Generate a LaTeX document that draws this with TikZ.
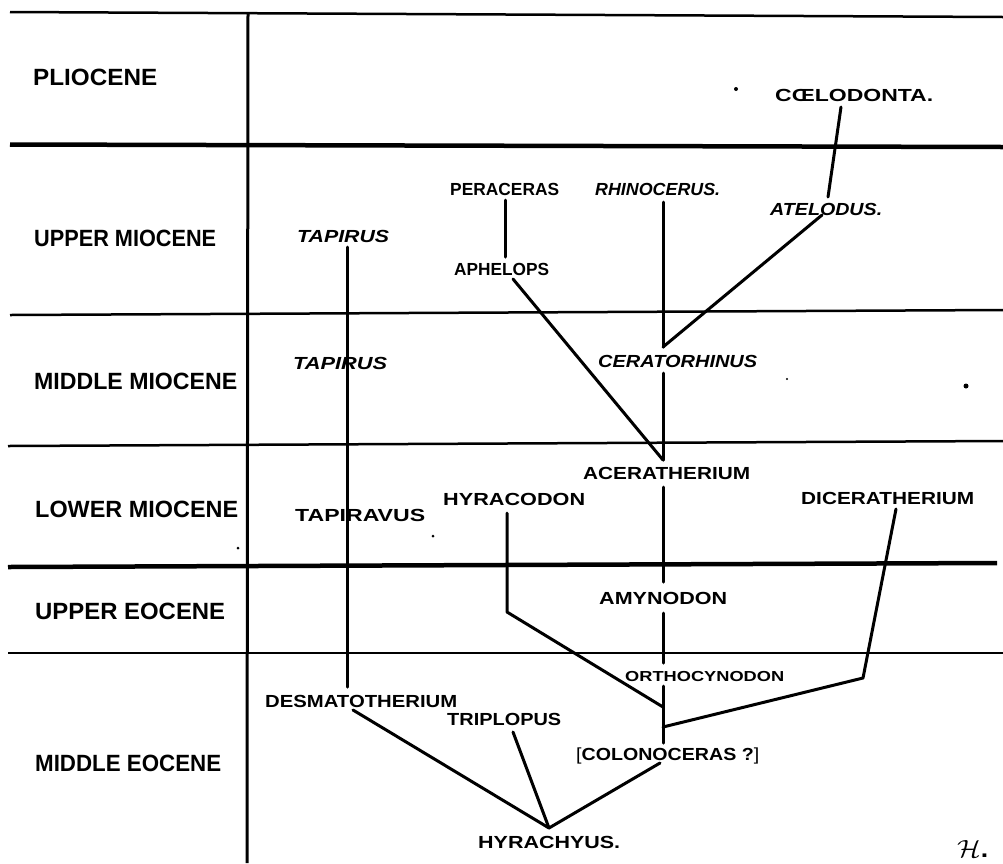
\documentclass[tikz,border=0pt]{standalone}
\usepackage{fontspec}
\setmainfont{Liberation Sans}
\usepackage{graphicx}
\newcommand\fw[2]{\resizebox{#1pt}{\height}{#2}}
\newcommand\monogram{\mbox{$\mathcal{H}$}}
\begin{document}
\begin{tikzpicture}[x=1pt,y=-1pt,
  era/.style={font=\fontsize{23.5}{24}\selectfont\bfseries, anchor=base west, inner sep=0pt},
  sp/.style={font=\fontsize{17.5}{18}\selectfont\bfseries, anchor=base west, inner sep=0pt},
  spi/.style={font=\fontsize{17.5}{18}\selectfont\bfseries\itshape, anchor=base west, inner sep=0pt},
  gthin/.style={line width=2.5pt},
  gthick/.style={line width=4.5pt},
  branch/.style={line width=3pt, line cap=round, line join=round},
  speck/.style={fill=black, draw=none}]
\useasboundingbox (0,0) rectangle (1003,863);
\fill[white] (0,0) rectangle (1003,863);
% grid
\draw[gthin] (10,12) -- (1003,17);
\draw[gthick] (10,144.5) -- (1003,147);
\draw[gthin] (10,315) -- (1003,310);
\draw[gthin] (8,446) -- (1003,441);
\draw[gthick] (8,567) -- (997,563);
\draw[gthin] (8,653) -- (1003,653);
\draw[line width=3pt] (248,13) -- (247,863);
% era labels
\node[era] (plio) at (33,85) {\fw{124}{PLIOCENE}};
\node[era] (umio) at (34,246) {\fw{182}{UPPER MIOCENE}};
\node[era] (mmio) at (34,389) {\fw{203}{MIDDLE MIOCENE}};
\node[era] (lmio) at (35,517) {\fw{203}{LOWER MIOCENE}};
\node[era] (ueoc) at (35,619) {\fw{190}{UPPER EOCENE}};
\node[era] (meoc) at (35,771) {\fw{186}{MIDDLE EOCENE}};
% genera
\node[sp] (coel) at (775,101) {\fw{158}{CŒLODONTA.}};
\node[sp] (pera) at (450,195) {\fw{109}{PERACERAS}};
\node[spi] (rhino) at (595,195) {\fw{125}{RHINOCERUS.}};
\node[spi] (atel) at (770,215) {\fw{112}{ATELODUS.}};
\node[sp] (aphe) at (454,275) {\fw{95}{APHELOPS}};
\node[spi] (tapa) at (297,242) {\fw{92}{TAPIRUS}};
\node[spi] (tapb) at (293,369) {\fw{94}{TAPIRUS}};
\node[spi] (cera) at (598,367) {\fw{159}{CERATORHINUS}};
\node[sp] (acer) at (583,479) {\fw{167}{ACERATHERIUM}};
\node[sp] (hyrac) at (443,505) {\fw{142}{HYRACODON}};
\node[sp] (tapv) at (295,521) {\fw{130}{TAPIRAVUS}};
\node[sp] (dice) at (801,504) {\fw{173}{DICERATHERIUM}};
\node[sp] (amyn) at (599,604) {\fw{128}{AMYNODON}};
\node[sp, font=\fontsize{14.5}{15}\selectfont\bfseries] (orth) at (625,681) {\fw{159}{ORTHOCYNODON}};
\node[sp] (desm) at (265,707) {\fw{192}{DESMATOTHERIUM}};
\node[sp] (trip) at (447,725) {\fw{114}{TRIPLOPUS}};
\node[sp, font=\fontsize{17.5}{18}\selectfont] (colo) at (576,760) {\fw{183}{[\textbf{COLONOCERAS ?}]}};
\node[sp] (hyrach) at (478,848) {\fw{142}{HYRACHYUS.}};
\node[sp, font=\fontsize{24}{24}\selectfont\bfseries] (mono) at (957,857) {\fw{31}{\monogram.}};
% junction / end coordinates
\coordinate (c1) at (841,107);  \coordinate (c2) at (828,197);
\coordinate (p1) at (505,200);  \coordinate (p2) at (505,257);
\coordinate (r1) at (663,202);  \coordinate (jC) at (663,347);
\coordinate (a1) at (822,215);
\coordinate (ap1) at (513,279); \coordinate (jA) at (663,460);
\coordinate (ce1) at (663,373);
\coordinate (ac1) at (663,487); \coordinate (ac2) at (663,582);
\coordinate (am1) at (663,613); \coordinate (am2) at (663,663);
\coordinate (or1) at (663,686); \coordinate (or2) at (663,743);
\coordinate (hy1) at (507,513); \coordinate (hy2) at (507,612); \coordinate (jH) at (663,707);
\coordinate (di1) at (896,509); \coordinate (di2) at (863,678); \coordinate (jD) at (663,727);
\coordinate (t1) at (347,247);  \coordinate (t2) at (347,687);
\coordinate (de1) at (353,710); \coordinate (jR) at (549,828);
\coordinate (tr1) at (513,732);
\coordinate (co1) at (660,763);
% branches
\draw[branch] (c1) -- (c2);
\draw[branch] (p1) -- (p2);
\draw[branch] (r1) -- (jC);
\draw[branch] (a1) -- (jC);
\draw[branch] (ap1) -- (jA);
\draw[branch] (ce1) -- (jA);
\draw[branch] (ac1) -- (ac2);
\draw[branch] (am1) -- (am2);
\draw[branch] (or1) -- (or2);
\draw[branch] (hy1) -- (hy2) -- (jH);
\draw[branch] (di1) -- (di2) -- (jD);
\draw[branch] (t1) -- (t2);
\draw[branch] (de1) -- (jR);
\draw[branch] (tr1) -- (jR);
\draw[branch] (co1) -- (jR);
% specks
\fill[speck] (736,89) circle (2pt);
\fill[speck] (966,386) circle (2.5pt);
\fill[speck] (787,379) circle (1.2pt);
\fill[speck] (433,536) circle (1.5pt);
\fill[speck] (238,548) circle (1.5pt);
\end{tikzpicture}
\end{document}
